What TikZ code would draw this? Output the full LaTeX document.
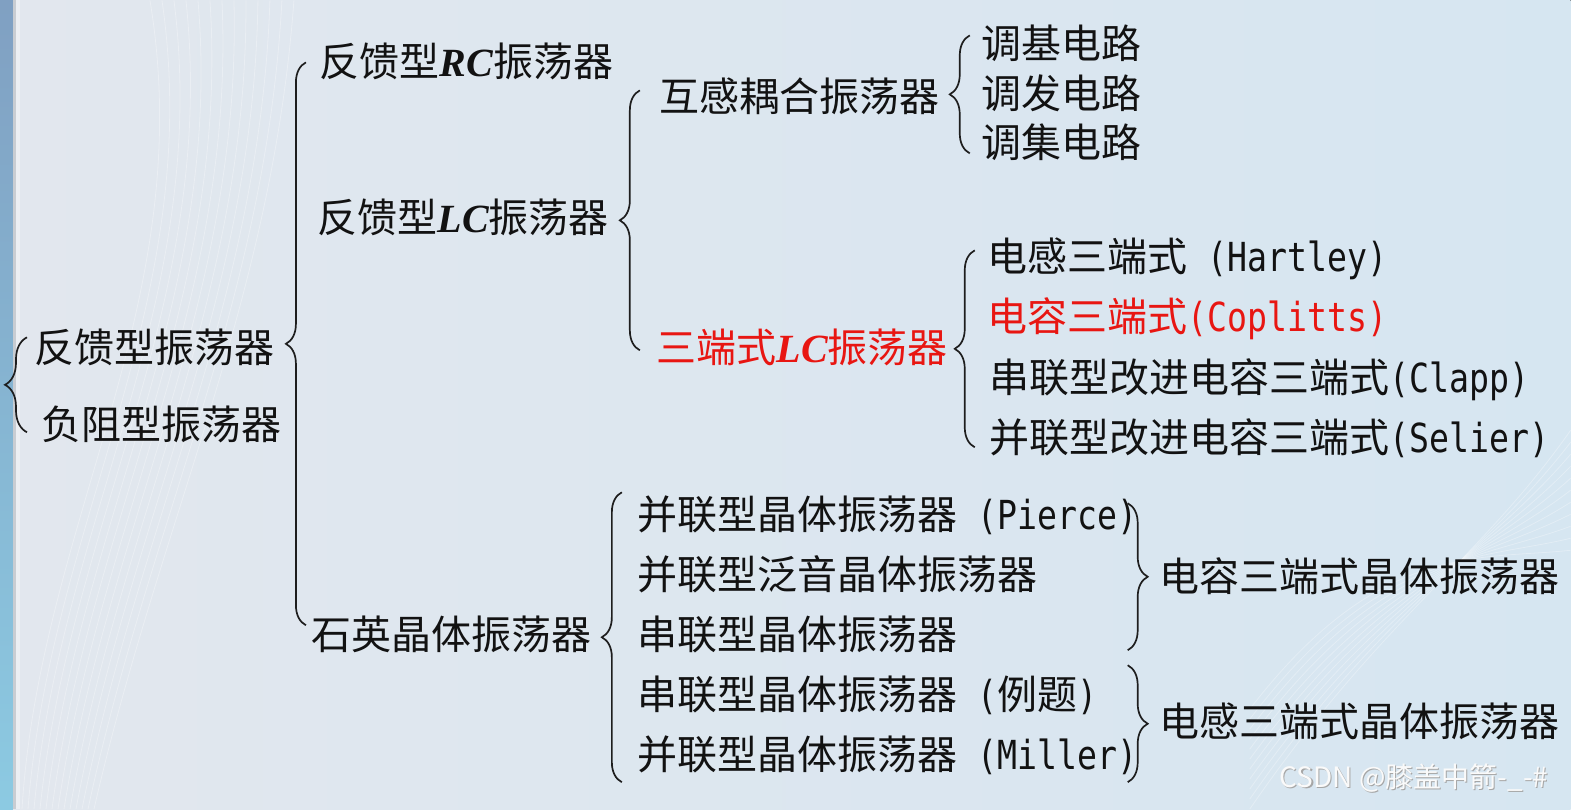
\documentclass[tikz,border=0pt]{standalone}
\usepackage{fontspec}
\setmainfont{Noto Sans CJK SC}
\newfontfamily\lat[FakeStretch=0.83]{DejaVu Sans Mono}
\newfontfamily\rcf{Liberation Serif}
\usetikzlibrary{decorations.pathreplacing}
\definecolor{bgL}{RGB}{226,231,238}
\definecolor{bgR}{RGB}{214,230,241}
\definecolor{stripT}{RGB}{128,160,194}
\definecolor{stripB}{RGB}{140,202,226}
\definecolor{txt}{RGB}{18,18,18}
\definecolor{brc}{RGB}{30,30,30}
\definecolor{hot}{RGB}{232,22,18}
\newcommand{\vlc}[1]{{\rcf\bfseries\itshape #1}}
\begin{document}
\begin{tikzpicture}[x=1pt,y=-1pt,
  lbl/.style={inner sep=0pt, outer sep=0pt, anchor=base west, font=\fontsize{40}{48}\selectfont, text=txt},
  hotlbl/.style={lbl, text=hot},
  wmk/.style={inner sep=0pt, outer sep=0pt, anchor=base west, font=\fontsize{28}{32}\selectfont},
  br/.style={decorate, decoration={brace, amplitude=#1}, line width=1.7pt, draw=brc},
  br/.default=20]
% background
\fill[left color=bgL, right color=bgR] (0,0) rectangle (1571,809);
\fill[top color=stripT, bottom color=stripB] (0,0) rectangle (13,809);
\fill[gray, opacity=.25] (13,0) rectangle (16,809);
\fill[white, opacity=.35] (16,0) rectangle (20,809);
\foreach \i in {0,...,12}{
  \draw[white, opacity=.3, line width=.8pt] (22+6*\i,809) .. controls (40+10*\i,520) and (200+6*\i,300) .. (150+12*\i,0);
}
\foreach \i in {0,...,10}{
  \draw[white, opacity=.3, line width=.8pt] (1250,809-10*\i) .. controls (1380,620-8*\i) and (1480,560) .. (1571,430+12*\i);
}
% level 0
\node[lbl] (fb) at (35,362) {反馈型振荡器};
\node[lbl] (nr) at (42,439) {负阻型振荡器};
% level 1
\node[lbl] (rc) at (320,76) {反馈型\vlc{RC}振荡器};
\node[lbl] (lc) at (318,232) {反馈型\vlc{LC}振荡器};
\node[lbl] (sy) at (312,649) {石英晶体振荡器};
% level 2
\node[lbl] (hg) at (660,111) {互感耦合振荡器};
\node[hotlbl] (sd) at (657,362) {三端式\vlc{LC}振荡器};
\node[lbl] (pi) at (638,529) {并联型晶体振荡器{\lat\ (Pierce)}};
\node[lbl] (fy) at (638,589) {并联型泛音晶体振荡器};
\node[lbl] (cx) at (638,649) {串联型晶体振荡器};
\node[lbl] (lt) at (638,709) {串联型晶体振荡器{\lat\ (}例题{\lat )}};
\node[lbl] (mi) at (638,769) {并联型晶体振荡器{\lat\ (Miller)}};
% level 3
\node[lbl] (tj) at (982,58) {调基电路};
\node[lbl] (tf) at (982,108) {调发电路};
\node[lbl] (tc) at (982,157) {调集电路};
\node[lbl] (hy) at (988,271) {电感三端式{\lat\ (Hartley)}};
\node[hotlbl] (co) at (988,331) {电容三端式{\lat (Coplitts)}};
\node[lbl] (cl) at (990,392) {串联型改进电容三端式{\lat (Clapp)}};
\node[lbl] (se) at (990,452) {并联型改进电容三端式{\lat (Selier)}};
\node[lbl] (dr) at (1160,591) {电容三端式晶体振荡器};
\node[lbl] (gr) at (1160,736) {电感三端式晶体振荡器};
% watermark
\node[wmk, text=gray!70] (wms) at (1281.2,788.2) {CSDN @膝盖中箭-\_-\#};
\node[wmk, text=white!96!gray] (wm) at (1280,787) {CSDN @膝盖中箭-\_-\#};
% braces
\coordinate (a1) at (27,432); \coordinate (a2) at (27,337);
\coordinate (b1) at (306,625); \coordinate (b2) at (306,62);
\coordinate (c1) at (640,350); \coordinate (c2) at (640,90);
\coordinate (d1) at (970,153); \coordinate (d2) at (970,35);
\coordinate (e1) at (975,447); \coordinate (e2) at (975,250);
\coordinate (f1) at (622,782); \coordinate (f2) at (622,492);
\coordinate (g1) at (1128,503); \coordinate (g2) at (1128,650);
\coordinate (h1) at (1128,665); \coordinate (h2) at (1128,782);
\draw[br=22] (a1) -- (a2);
\draw[br] (b1) -- (b2);
\draw[br] (c1) -- (c2);
\draw[br] (d1) -- (d2);
\draw[br] (e1) -- (e2);
\draw[br] (f1) -- (f2);
\draw[br] (g1) -- (g2);
\draw[br] (h1) -- (h2);
\end{tikzpicture}
\end{document}
